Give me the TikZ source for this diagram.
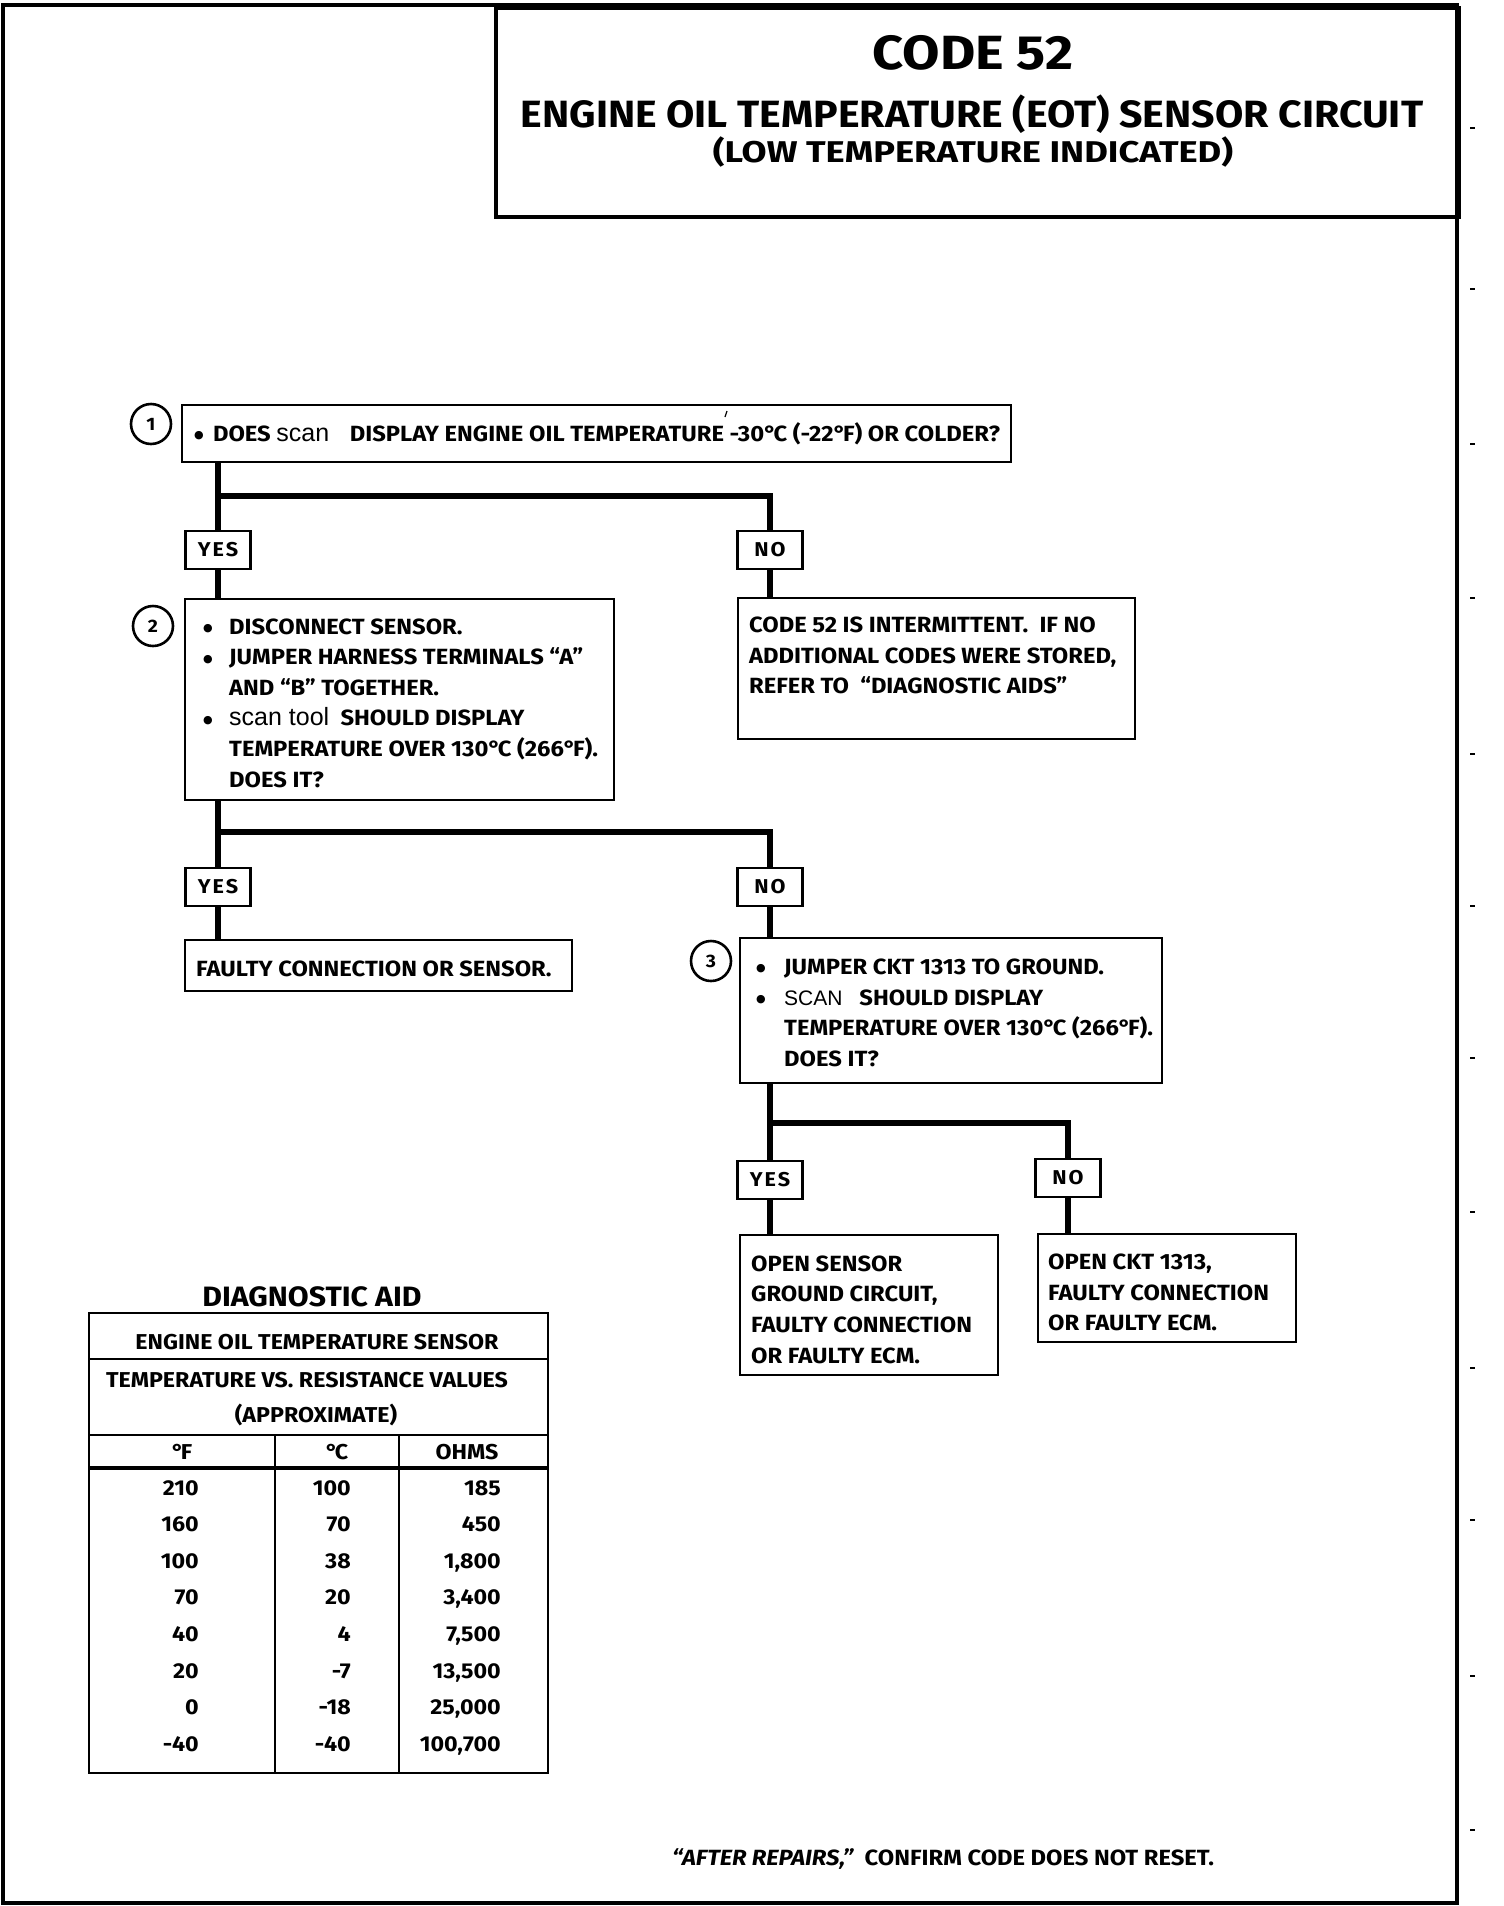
\documentclass[tikz,border=0pt]{standalone}
\usepackage{fontspec}
\newfontfamily\bodyf{Fira Sans}[FakeStretch=1.08]
\newfontfamily\tfa{Fira Sans}[FakeStretch=1.13]
\newfontfamily\tfb{Fira Sans}[FakeStretch=1.08]
\newfontfamily\tfc{Fira Sans}[FakeStretch=1.21]
\newfontfamily\tabf{Fira Sans}[FakeStretch=1.08]
\newfontfamily\lblf{Fira Sans}[FakeStretch=1.08,LetterSpace=10]
\newfontfamily\helv{Liberation Sans}
\newfontfamily\dejavu{DejaVu Sans}
\tikzset{
  box/.style={draw, line width=2.4pt, inner sep=0pt, anchor=north west},
  lbl/.style={draw, line width=2.4pt, minimum width=65pt, minimum height=38pt, inner sep=0pt,
    font=\lblf\bfseries\fontsize{20}{22}\selectfont},
  ln/.style={anchor=base west, inner sep=0pt, font=\bodyf\bfseries\fontsize{22}{24}\selectfont},
  num/.style={circle, draw, line width=2.6pt, minimum size=40pt, inner sep=0pt,
    font=\bodyf\bfseries\fontsize{18}{20}\selectfont},
  wire/.style={line width=6pt},
  tline/.style={line width=2.4pt},
  tnum/.style={inner sep=0pt, font=\tabf\bfseries\fontsize{21.5}{24}\selectfont},
  ttl/.style={inner sep=0pt, anchor=base},
}
\newcommand{\bdot}{\raisebox{2.5pt}{\dejavu\fontsize{11}{11}\selectfont ●}}
\newcommand{\bul}{\makebox[26pt][l]{\bdot}}
\newcommand{\bulw}{\makebox[28pt][l]{\bdot}}
\newcommand{\dg}{°\kern-3pt}
\begin{document}
\begin{tikzpicture}[x=1pt,y=-1pt]
\useasboundingbox (0,0) rectangle (1504,1906);
% outer frame and title box
\draw[line width=4pt] (3,5) rectangle (1457,1903);
\node[box, line width=3.5pt, minimum width=963pt, minimum height=209pt] (tb) at (494,6) {};
\node[ttl, font=\tfa\bfseries\fontsize{48}{52}\selectfont] (t1) at (973,69) {CODE 52};
\node[ttl, font=\tfb\bfseries\fontsize{38}{42}\selectfont] (t2) at (972,127) {ENGINE OIL TEMPERATURE (EOT) SENSOR CIRCUIT};
\node[ttl, font=\tfc\bfseries\fontsize{30}{34}\selectfont] (t3) at (973,162) {(LOW TEMPERATURE INDICATED)};
% scan marks on the right
\foreach \t in {128,289,444,598,754,906,1058,1212,1368,1520,1676,1830}
  \draw[line width=1.5pt] (1470,\t) -- (1475,\t);

% step 1
\node[box, minimum width=829pt, minimum height=57pt] (b1) at (181,404) {};
\node[num] (c1) at (151,424) {1};
\node[ln] (b1t) at (194,441) {\bdot\ \,DOES\ {\helv\mdseries\fontsize{25}{26}\selectfont scan}\ \ \ \,DISPLAY ENGINE OIL TEMPERATURE -30\dg C (-22\dg F) OR COLDER?};
\draw[line width=1.2pt] (727,411) -- (725,417);
\node[lbl] (yes1) at (218,550) {YES};
\node[lbl] (no1) at (770,550) {NO};
\coordinate (j1) at (218,496);
\draw[wire] (b1.south -| yes1.north) -- (yes1.north);
\draw[wire] (j1) -| (no1.north);

% step 2
\node[box, minimum width=429pt, minimum height=201pt] (b2) at (184,598) {};
\node[num] (c2) at (153,626) {2};
\node[ln] (b2a) at (203,634) {\bul DISCONNECT SENSOR.};
\node[ln] (b2b) at (203,664.6) {\bul JUMPER HARNESS TERMINALS “A”};
\node[ln] (b2c) at (229,695.2) {AND “B” TOGETHER.};
\node[ln] (b2d) at (203,725.8) {\bul {\helv\mdseries\fontsize{25}{26}\selectfont scan tool}\ \ SHOULD DISPLAY};
\node[ln] (b2e) at (229,756.4) {TEMPERATURE OVER 130\dg C (266\dg F).};
\node[ln] (b2f) at (229,787) {DOES IT?};
\draw[wire] (yes1.south) -- (yes1.south |- b2.north);

\node[box, minimum width=397pt, minimum height=141pt] (n1r) at (737,597) {};
\node[ln] (n1a) at (749,632) {CODE 52 IS INTERMITTENT.\ \ IF NO};
\node[ln] (n1b) at (749,663) {ADDITIONAL CODES WERE STORED,};
\node[ln] (n1c) at (749,693) {REFER TO\ \ “DIAGNOSTIC AIDS”};
\draw[wire] (no1.south) -- (no1.south |- n1r.north);

\node[lbl] (yes2) at (218,887) {YES};
\node[lbl] (no2) at (770,887) {NO};
\coordinate (j2) at (218,832);
\draw[wire] (b2.south -| yes2.north) -- (yes2.north);
\draw[wire] (j2) -| (no2.north);

\node[box, minimum width=387pt, minimum height=51pt] (fc) at (184,939) {};
\node[ln] (fct) at (196,976) {FAULTY CONNECTION OR SENSOR.};
\draw[wire] (yes2.south) -- (yes2.south |- fc.north);

% step 3
\node[box, minimum width=422pt, minimum height=145pt] (b3) at (739,937) {};
\node[num] (c3) at (711,961) {3};
\node[ln] (b3a) at (756,974) {\bulw JUMPER CKT 1313 TO GROUND.};
\node[ln] (b3b) at (756,1005) {\bulw {\helv\mdseries\fontsize{21}{22}\selectfont SCAN}\ \ \ SHOULD DISPLAY};
\node[ln] (b3c) at (784,1035) {TEMPERATURE OVER 130\dg C (266\dg F).};
\node[ln] (b3d) at (784,1066) {DOES IT?};
\draw[wire] (no2.south) -- (no2.south |- b3.north);

\node[lbl] (yes3) at (770,1180) {YES};
\node[lbl] (no3) at (1068,1178) {NO};
\coordinate (j3) at (770,1123);
\draw[wire] (b3.south -| yes3.north) -- (yes3.north);
\draw[wire] (j3) -| (no3.north);

\node[box, minimum width=258pt, minimum height=140pt] (r3y) at (739,1234) {};
\node[ln] (r3ya) at (751,1271) {OPEN SENSOR};
\node[ln] (r3yb) at (751,1301) {GROUND CIRCUIT,};
\node[ln] (r3yc) at (751,1332) {FAULTY CONNECTION};
\node[ln] (r3yd) at (751,1363) {OR FAULTY ECM.};
\draw[wire] (yes3.south) -- (yes3.south |- r3y.north);

\node[box, minimum width=258pt, minimum height=108pt] (r3n) at (1037,1233) {};
\node[ln] (r3na) at (1048,1269) {OPEN CKT 1313,};
\node[ln] (r3nb) at (1048,1300) {FAULTY CONNECTION};
\node[ln] (r3nc) at (1048,1330) {OR FAULTY ECM.};
\draw[wire] (no3.south) -- (no3.south |- r3n.north);

% diagnostic aid table
\node[inner sep=0pt, anchor=base, font=\tabf\bfseries\fontsize{28}{30}\selectfont] (dah) at (312,1306) {DIAGNOSTIC AID};
\node[box, minimum width=459pt, minimum height=460pt] (tbl) at (88,1312) {};
\draw[tline] (tbl.west |- 0,1359) -- (tbl.east |- 0,1359);
\draw[tline] (tbl.west |- 0,1435) -- (tbl.east |- 0,1435);
\draw[line width=3.5pt] (tbl.west |- 0,1468) -- (tbl.east |- 0,1468);
\draw[tline] (275,1435) -- (tbl.south -| 275,0);
\draw[tline] (399,1435) -- (tbl.south -| 399,0);
\node[tnum, anchor=base] (th1) at (317,1349) {ENGINE OIL TEMPERATURE SENSOR};
\node[tnum, anchor=base] (th2) at (307,1387) {TEMPERATURE VS. RESISTANCE VALUES};
\node[tnum, anchor=base] (th3) at (316,1422) {(APPROXIMATE)};
\node[tnum, anchor=base] (hf) at (182,1459) {\dg F};
\node[tnum, anchor=base] (hc) at (337,1459) {\dg C};
\node[tnum, anchor=base] (ho) at (467,1459) {OHMS};
\foreach \f/\c/\o [count=\i] in {210/100/185,160/70/450,100/38/1{,}800,70/20/3{,}400,40/4/7{,}500,20/-7/13{,}500,0/-18/25{,}000,-40/-40/100{,}700}{
  \pgfmathsetmacro\yy{1495+36.6*(\i-1)}
  \node[tnum, anchor=base east] (tf\i) at (199,\yy) {\f};
  \node[tnum, anchor=base east] (tc\i) at (351,\yy) {\c};
  \node[tnum, anchor=base east] (to\i) at (501,\yy) {\o};
}

% footer
\node[ln] (foot) at (672,1865) {{\itshape “AFTER REPAIRS,”}\ \ CONFIRM CODE DOES NOT RESET.};
\end{tikzpicture}
\end{document}
